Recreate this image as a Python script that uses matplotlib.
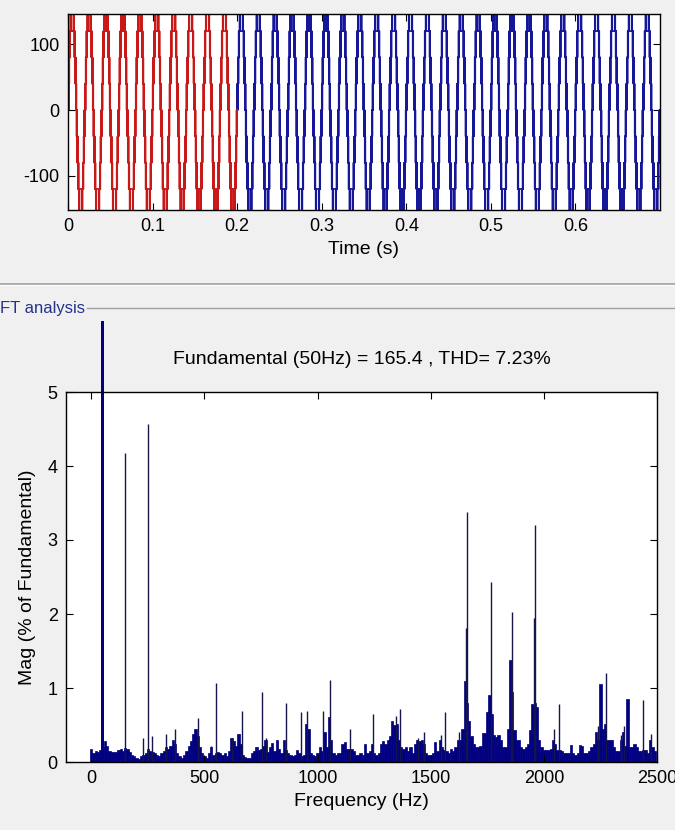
import numpy as np
import matplotlib
matplotlib.use('Agg')
import matplotlib.pyplot as plt
from matplotlib.lines import Line2D
from matplotlib.transforms import Bbox, TransformedBbox

plt.rcParams['font.family'] = ['Liberation Sans', 'DejaVu Sans']
plt.rcParams['axes.unicode_minus'] = False

# Inverter output: one half cycle of the 9-level staircase (ms, V),
# the second half is the mirror image
HALF_T_MS = [0.0, 0.1, 0.3, 0.45, 0.6, 0.75,
             0.9, 1.1, 1.25, 1.4, 1.55,
             1.8, 2.0, 2.15, 2.3, 2.45,
             2.9, 3.1, 3.3, 3.5,
             6.5, 6.7, 6.9, 7.1,
             7.6, 7.75, 7.9, 8.05, 8.2,
             8.5, 8.65, 8.8, 8.95, 9.1,
             9.3, 9.45, 9.6, 9.75, 9.9]
HALF_V = [0, 40, 0, 40, 0, 40,
          80, 40, 80, 40, 80,
          120, 80, 120, 80, 120,
          160, 120, 160, 120,
          160, 120, 160, 120,
          80, 120, 80, 120, 80,
          40, 80, 40, 80, 40,
          0, 40, 0, 40, 0]
PERIOD_MS = 20.0
SIM_END = 0.7
FFT_WINDOW = 0.2

# FFT result: 10 Hz floor bins from 0 to 2490 Hz (% of fundamental)
FLOOR_MAG = [
    0.18, 0.12, 0.15, 0.14, 0.16, 0.20, 0.28, 0.22, 0.15, 0.13,
    0.13, 0.14, 0.16, 0.18, 0.15, 0.19, 0.17, 0.13, 0.10, 0.08,
    0.05, 0.04, 0.08, 0.10, 0.12, 0.18, 0.15, 0.14, 0.12, 0.10,
    0.08, 0.12, 0.15, 0.20, 0.18, 0.22, 0.30, 0.25, 0.12, 0.08,
    0.06, 0.10, 0.15, 0.22, 0.28, 0.38, 0.45, 0.35, 0.20, 0.12,
    0.08, 0.06, 0.12, 0.20, 0.10, 0.12, 0.13, 0.12, 0.10, 0.12,
    0.08, 0.15, 0.33, 0.28, 0.22, 0.38, 0.25, 0.10, 0.07, 0.06,
    0.05, 0.12, 0.15, 0.20, 0.16, 0.18, 0.22, 0.30, 0.14, 0.20,
    0.26, 0.15, 0.30, 0.18, 0.12, 0.30, 0.16, 0.12, 0.10, 0.08,
    0.10, 0.16, 0.12, 0.08, 0.10, 0.52, 0.45, 0.12, 0.10, 0.08,
    0.12, 0.20, 0.15, 0.41, 0.20, 0.61, 0.30, 0.12, 0.10, 0.12,
    0.12, 0.25, 0.27, 0.18, 0.18, 0.18, 0.15, 0.10, 0.10, 0.12,
    0.10, 0.25, 0.12, 0.15, 0.25, 0.12, 0.10, 0.12, 0.25, 0.28,
    0.25, 0.30, 0.35, 0.55, 0.50, 0.52, 0.30, 0.20, 0.18, 0.20,
    0.15, 0.20, 0.12, 0.25, 0.30, 0.28, 0.30, 0.25, 0.12, 0.10,
    0.10, 0.12, 0.27, 0.15, 0.30, 0.20, 0.16, 0.15, 0.12, 0.18,
    0.15, 0.20, 0.30, 0.30, 0.45, 1.10, 0.80, 0.55, 0.35, 0.25,
    0.20, 0.20, 0.22, 0.39, 0.39, 0.68, 0.90, 0.65, 0.36, 0.34,
    0.36, 0.30, 0.20, 0.20, 0.45, 1.38, 0.95, 0.43, 0.30, 0.30,
    0.20, 0.18, 0.20, 0.25, 0.43, 0.79, 0.80, 0.75, 0.30, 0.20,
    0.16, 0.16, 0.16, 0.18, 0.30, 0.25, 0.16, 0.16, 0.15, 0.12,
    0.12, 0.12, 0.23, 0.12, 0.10, 0.12, 0.23, 0.22, 0.12, 0.12,
    0.15, 0.20, 0.25, 0.40, 0.30, 1.06, 0.45, 0.52, 0.30, 0.30,
    0.30, 0.20, 0.15, 0.15, 0.30, 0.40, 0.22, 0.85, 0.20, 0.20,
    0.25, 0.20, 0.15, 0.15, 0.16, 0.16, 0.12, 0.30, 0.20, 0.15,
]
FLOOR_STEP_HZ = 10

# narrow harmonic lines
SPIKE_HZ = [150, 250, 230, 270, 330, 370, 470, 530, 550, 620, 665, 755, 770,
            860, 925, 955, 1025, 1055, 1145, 1245, 1345, 1365, 1445, 1470,
            1545, 1565, 1625, 1655, 1660, 1765, 1855, 1860, 1955, 1960, 2045,
            2065, 2240, 2275, 2340, 2355, 2440, 2475]
SPIKE_MAG = [4.17, 4.57, 0.33, 0.35, 0.38, 0.45, 0.60, 0.22, 1.07, 0.33, 0.69,
             0.94, 0.33, 0.80, 0.67, 0.69, 0.69, 1.11, 0.45, 0.65, 0.62, 0.72,
             0.33, 0.40, 0.37, 0.67, 0.40, 1.81, 3.38, 2.43, 1.38, 2.03, 1.95,
             3.20, 0.44, 0.79, 0.48, 1.20, 0.36, 0.48, 0.84, 0.38]

FUND_HZ = 50
FUND_MAG = 100.0
FUND_VALUE = 165.4
THD = 7.23

BG = '#f0f0f0'
NAVY = '#000080'
RED = '#c81818'
BLUE = '#16169a'


def style_axes(ax):
    ax.set_facecolor('white')
    ax.tick_params(direction='in', length=5, top=True, right=True,
                   labelsize=13, colors='black', pad=6)
    for s in ax.spines.values():
        s.set_linewidth(1.0)
        s.set_color('black')


fig = plt.figure(figsize=(6.75, 8.3), dpi=100, facecolor=BG)

# ---- time signal ----
ax1 = fig.add_axes([68 / 675, 1 - 210 / 830, 592 / 675, 196 / 830])
style_axes(ax1)

t_period = np.array(HALF_T_MS + [x + PERIOD_MS / 2 for x in HALF_T_MS])
v_period = np.array(HALF_V + [-v for v in HALF_V])
n_periods = int(round(SIM_END * 1000 / PERIOD_MS))
t = np.concatenate([(k * PERIOD_MS + t_period) / 1000 for k in range(n_periods)] + [[SIM_END]])
v = np.concatenate([v_period for _ in range(n_periods)] + [[0]])

in_win = t <= FFT_WINDOW + 1e-9
after = t >= FFT_WINDOW - 1e-9
ax1.plot(t[after], v[after], drawstyle='steps-post', color=BLUE, lw=1.2)
ax1.plot(t[in_win], v[in_win], drawstyle='steps-post', color=RED, lw=1.2)
ax1.set_xlim(0, SIM_END)
ax1.set_ylim(-152, 146)
ax1.set_yticks([-100, 0, 100])
ax1.set_xticks([0, 0.1, 0.2, 0.3, 0.4, 0.5, 0.6])
ax1.set_xticklabels(['0', '0.1', '0.2', '0.3', '0.4', '0.5', '0.6'])
ax1.set_xlabel('Time (s)', fontsize=14, labelpad=4)

# panel separators
fig.add_artist(Line2D([0, 1], [1 - 284 / 830] * 2, transform=fig.transFigure,
                      color='#a0a0a0', lw=1.2))
fig.add_artist(Line2D([0, 1], [1 - 285.5 / 830] * 2, transform=fig.transFigure,
                      color='white', lw=0.8))
fig.add_artist(Line2D([87 / 675, 1], [1 - 308 / 830] * 2, transform=fig.transFigure,
                      color='#a0a0a0', lw=1.0))
fig.text(0.0, 1 - 308 / 830, 'FT analysis', color='#24328a', fontsize=12,
         ha='left', va='center')

# ---- spectrum ----
ax2 = fig.add_axes([66 / 675, 1 - 762 / 830, 591 / 675, 370 / 830])
style_axes(ax2)

floor_hz = np.arange(len(FLOOR_MAG)) * FLOOR_STEP_HZ
ax2.bar(floor_hz, FLOOR_MAG, width=FLOOR_STEP_HZ, color=NAVY, edgecolor=NAVY,
        linewidth=0.5, align='center')
ax2.vlines(SPIKE_HZ, 0, SPIKE_MAG, color='#15154a', lw=1.0)
fund = ax2.bar([FUND_HZ], [FUND_MAG], width=12, color=NAVY, edgecolor='none')
clip = TransformedBbox(Bbox([[0, 0], [1, 1 - 321 / 830]]), fig.transFigure)
for p in fund:
    p.set_clip_box(clip)

ax2.set_xlim(-112, 2500)
ax2.set_ylim(0, 5)
ax2.set_xticks([0, 500, 1000, 1500, 2000, 2500])
ax2.set_yticks([0, 1, 2, 3, 4, 5])
ax2.set_xlabel('Frequency (Hz)', fontsize=14, labelpad=4)
ax2.set_ylabel('Mag (% of Fundamental)', fontsize=14, labelpad=8)
ax2.set_title('Fundamental (%dHz) = %.1f , THD= %.2f%%' % (FUND_HZ, FUND_VALUE, THD),
              fontsize=14, pad=20)

fig.savefig('out.png', dpi=100, facecolor=BG)
